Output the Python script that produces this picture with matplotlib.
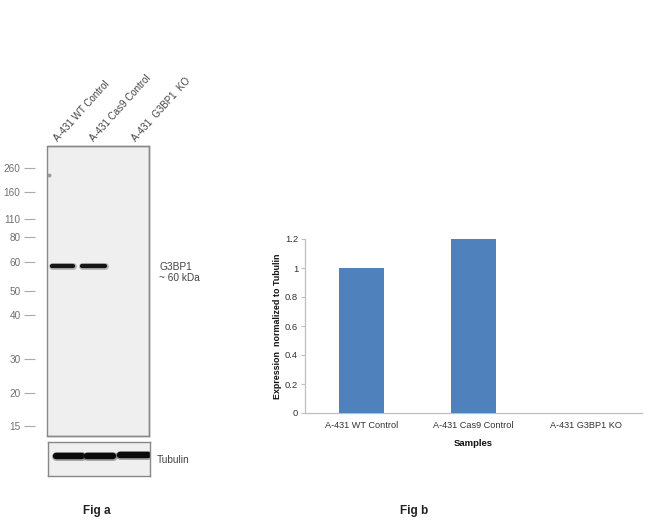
import matplotlib
matplotlib.use("Agg")
import matplotlib.pyplot as plt
from matplotlib.patches import Rectangle

plt.rcParams['font.family'] = ['Liberation Sans', 'DejaVu Sans']

# ---------------- data ----------------
lanes = ["A-431 WT Control", "A-431 Cas9 Control", "A-431  G3BP1  KO"]
ladder_labels = ["260", "160", "110", "80", "60", "50", "40", "30", "20", "15"]
ladder_rows = [168, 192, 219, 237, 262, 291, 315, 359, 393, 426]  # migration (px rows)
g3bp1_x0 = [51, 81]          # band start (px)
g3bp1_x1 = [74, 106]         # band end (px)
g3bp1_row = [265.5, 266]
tub_x0 = [54, 85, 118]
tub_x1 = [83, 114, 149]
tub_row = [456, 455.5, 455]

samples = ["A-431 WT Control", "A-431 Cas9 Control", "A-431 G3BP1 KO"]
expression = [1.0, 1.2, 0.0]
yticks = [0, 0.2, 0.4, 0.6, 0.8, 1.0, 1.2]
ytick_labels = ["0", "0.2", "0.4", "0.6", "0.8", "1", "1.2"]

W, H = 650, 525
fig = plt.figure(figsize=(6.5, 5.25), dpi=100)

def fx(px):
    return px / W

def fy(py):
    return 1 - py / H

# ---------------- blot (main) ----------------
bx0, bx1, by0, by1 = 47, 149, 146, 436
axb = fig.add_axes([fx(bx0), fy(by1), fx(bx1 - bx0), (by1 - by0) / H])
axb.set_xlim(bx0, bx1)
axb.set_ylim(by1, by0)
axb.set_facecolor('#efefef')
for s in axb.spines.values():
    s.set_color('#888888')
    s.set_linewidth(1.0)
axb.set_xticks([])
axb.set_yticks(ladder_rows)
axb.set_yticklabels(ladder_labels)
axb.tick_params(axis='y', direction='out', length=8, width=0.8, color='#aaaaaa',
                labelcolor='#707070', labelsize=7.2, pad=2)
axb.spines['left'].set_position(('outward', 9))
axb.spines['left'].set_visible(False)
axb.add_patch(Rectangle((0, 0), 1, 1, transform=axb.transAxes, fill=False,
                        edgecolor='#888888', linewidth=1.0, clip_on=False, zorder=5))
for x0, x1, r in zip(g3bp1_x0, g3bp1_x1, g3bp1_row):
    axb.plot([x0 + 1, x1 - 1], [r, r], color='#666666', lw=5.0, solid_capstyle='round', alpha=0.4)
    axb.plot([x0 + 1, x1 - 1], [r, r], color='#151515', lw=3.1, solid_capstyle='round')
axb.plot([48.5], [175], marker='o', ms=1.8, color='#999999')

# lane labels
for lab, xs in zip(lanes, [59, 95, 137]):
    fig.text(fx(xs), fy(143), lab, rotation=48, ha='left', va='bottom',
             rotation_mode='anchor', fontsize=7.0, color='#444444')

fig.text(fx(159), fy(267), "G3BP1", fontsize=7.3, color='#444444', va='center')
fig.text(fx(159), fy(278), "~ 60 kDa", fontsize=7.3, color='#444444', va='center')

# ---------------- blot (tubulin) ----------------
tx0, tx1, ty0, ty1 = 48, 150, 442, 476
axt = fig.add_axes([fx(tx0), fy(ty1), fx(tx1 - tx0), (ty1 - ty0) / H])
axt.set_xlim(tx0, tx1)
axt.set_ylim(ty1, ty0)
axt.set_facecolor('#efefef')
for s in axt.spines.values():
    s.set_color('#888888')
    s.set_linewidth(1.0)
axt.set_xticks([])
axt.set_yticks([])
for x0, x1, r in zip(tub_x0, tub_x1, tub_row):
    axt.plot([x0 + 1.5, x1 - 1.5], [r, r], color='#444444', lw=6.4,
             solid_capstyle='round', alpha=0.45)
    axt.plot([x0 + 1.5, x1 - 1.5], [r, r], color='#0a0a0a', lw=4.6,
             solid_capstyle='round')
fig.text(fx(157), fy(460), "Tubulin", fontsize=7.3, color='#444444', va='center')

# ---------------- bar chart ----------------
ax = fig.add_axes([fx(305), fy(413), fx(642 - 305), (413 - 239) / H])
xpos = list(range(len(samples)))
ax.bar(xpos, expression, width=0.4, color='#4f81bd', zorder=3)
ax.set_xlim(-0.5, len(samples) - 0.5)
ax.set_ylim(0, 1.2)
ax.set_yticks(yticks)
ax.set_yticklabels(ytick_labels)
ax.set_xticks(xpos)
ax.set_xticklabels(samples)
for side in ['top', 'right']:
    ax.spines[side].set_visible(False)
for side in ['left', 'bottom']:
    ax.spines[side].set_color('#bfbfbf')
    ax.spines[side].set_linewidth(0.9)
ax.tick_params(axis='y', direction='out', length=3, width=0.8, color='#bfbfbf',
               labelsize=6.8, labelcolor='#333333', pad=2)
ax.tick_params(axis='x', length=0, labelsize=6.6, labelcolor='#333333', pad=6)
ax.set_ylabel("Expression  normalized to Tubulin", fontsize=6.4, fontweight='bold',
              color='#111111', labelpad=2)
ax.set_xlabel("Samples", fontsize=6.8, fontweight='bold', color='#111111', labelpad=6)

# ---------------- panel captions ----------------
fig.text(fx(83), fy(511), "Fig a", fontsize=8.5, fontweight='bold', color='#222222', va='center')
fig.text(fx(400), fy(511), "Fig b", fontsize=8.5, fontweight='bold', color='#222222', va='center')

fig.savefig("out.png", dpi=100)
